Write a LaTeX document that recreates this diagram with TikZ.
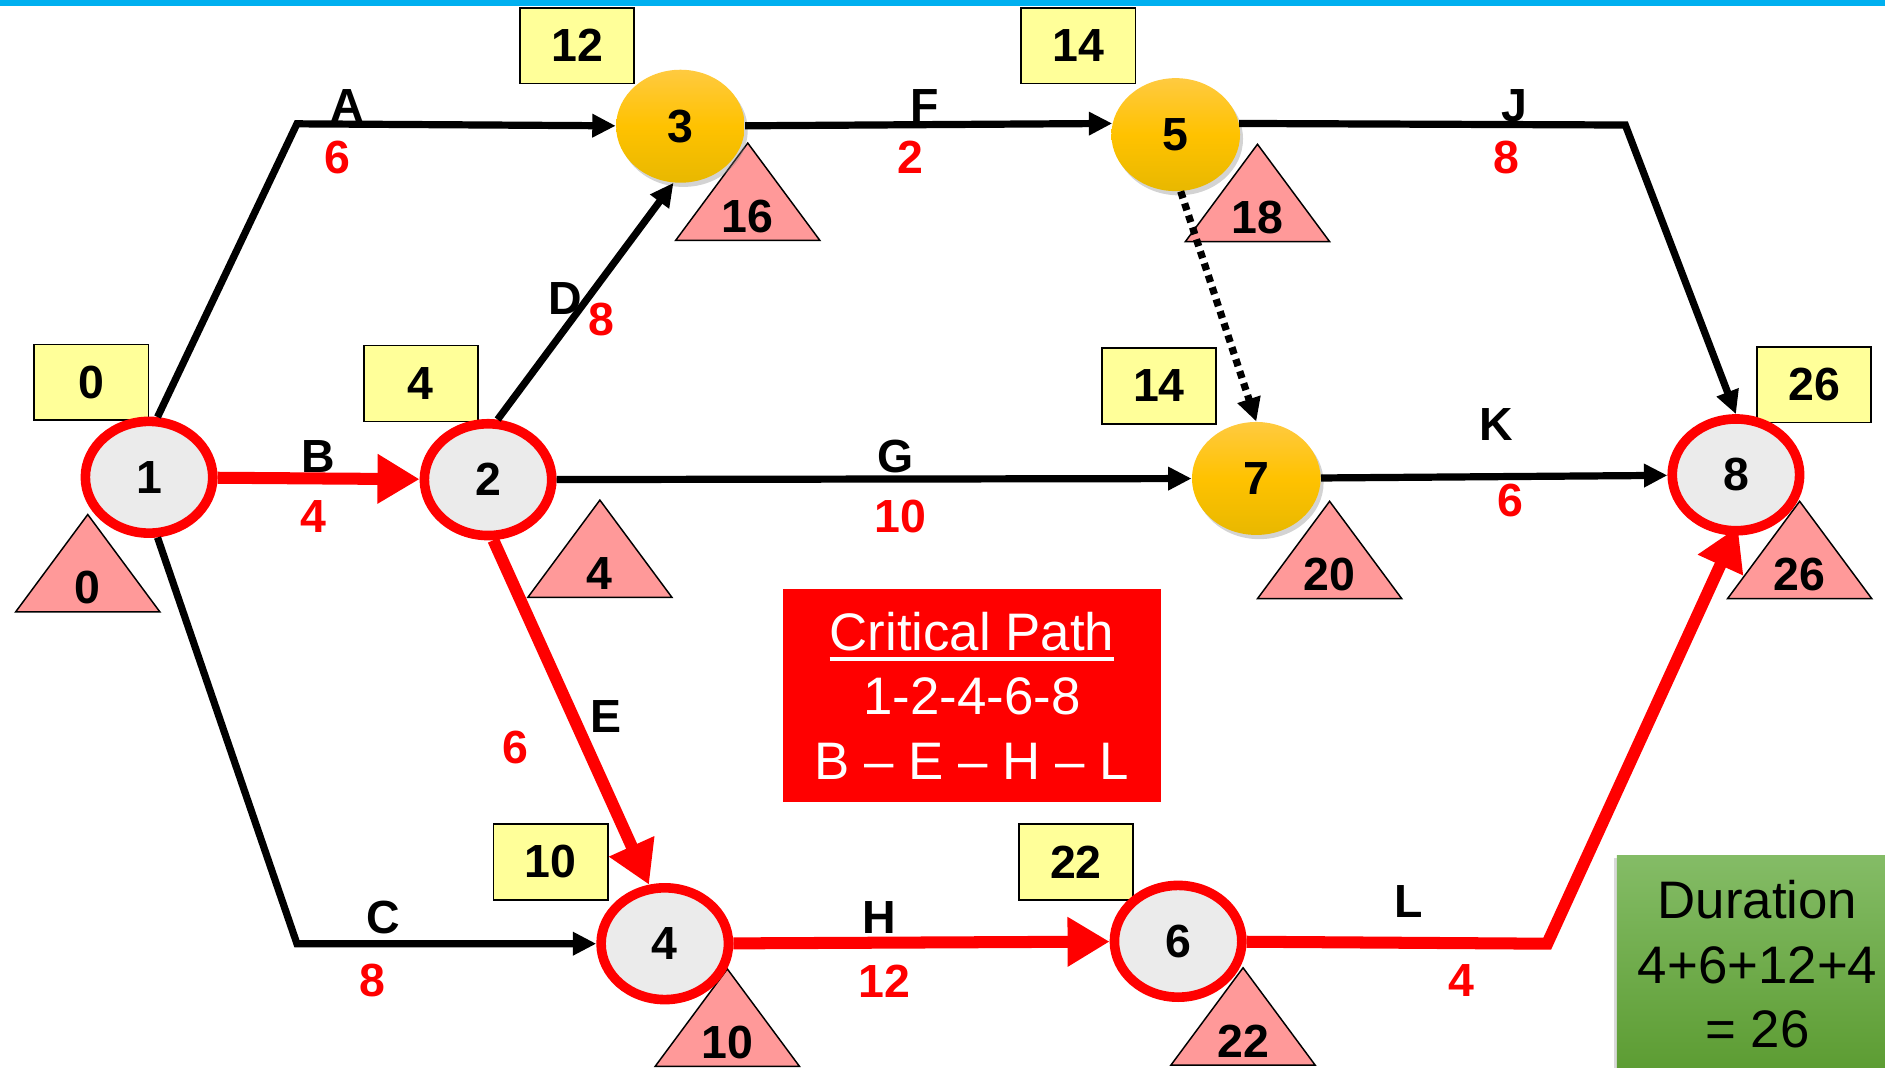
\documentclass[tikz,border=0pt]{standalone}
\usepackage{fontspec}
\setmainfont{Liberation Sans}
\usetikzlibrary{arrows.meta,shapes.geometric,shadows,backgrounds}
\definecolor{yboxfill}{HTML}{FFFF99}
\definecolor{trifill}{HTML}{FF9999}
\definecolor{nodegray}{HTML}{EBEBEB}
\definecolor{orgtop}{HTML}{FFCA40}
\definecolor{orgmid}{HTML}{FFC200}
\definecolor{orgbot}{HTML}{E8B800}
\definecolor{cyanbar}{HTML}{00B0F0}
\definecolor{grtop}{HTML}{84BC66}
\definecolor{grbot}{HTML}{5C9C32}
\newcommand\nfont{\fontsize{22}{26}\selectfont\bfseries}
\newcommand\bigtxt{\fontsize{25}{30.5}\selectfont}
\begin{document}
\begin{tikzpicture}[x=0.02cm,y=-0.02cm,
  critnode/.style={ellipse,draw=red,line width=0.16cm,fill=nodegray,minimum width=2.12cm,minimum height=1.86cm,inner sep=0pt,font=\nfont,
     drop shadow={shadow xshift=0.04cm,shadow yshift=-0.05cm,opacity=0.25}},
  orgnode/.style={ellipse,top color=orgtop,bottom color=orgbot,middle color=orgmid,minimum width=2.14cm,minimum height=1.88cm,inner sep=0pt,font=\nfont,
     drop shadow={shadow xshift=0.05cm,shadow yshift=-0.07cm,opacity=0.35}},
  yellowbox/.style={draw=black,line width=0.8pt,fill=yboxfill,minimum width=1.9cm,minimum height=1.26cm,inner sep=0pt,font=\nfont},
  pinktri/.style={draw=black,line width=0.7pt,fill=trifill},
  blk/.style={draw=black,line width=0.12cm,-{Triangle[length=0.39cm,width=0.37cm]}},
  crit/.style={draw=red,line width=0.2cm,-{Triangle[length=0.7cm,width=0.78cm]}},
  dotarrow/.style={draw=black,line width=0.12cm,dash pattern=on 0.12cm off 0.09cm,-{Triangle[length=0.39cm,width=0.38cm]}},
  actlbl/.style={font=\nfont,text=black,inner sep=0pt},
  durlbl/.style={font=\nfont,text=red,inner sep=0pt},
  tri/.pic={\draw[pinktri] (-60,81) -- (0,0) -- (60,81) -- cycle;
            \node[font=\nfont,inner sep=0pt] at (0,61) {#1};}
]
\useasboundingbox (0,0) rectangle (1568,888);
\fill[cyanbar] (0,0) rectangle (1568,5);

% event nodes
\node[critnode] (n1) at (124,397) {1};
\node[critnode] (n2) at (406,399) {2};
\node[orgnode]  (n3) at (566,105) {3};
\node[critnode] (n4) at (553,785) {4};
\node[orgnode]  (n5) at (978,112) {5};
\node[critnode] (n6) at (980,783) {6};
\node[orgnode]  (n7) at (1045,398) {7};
\node[critnode] (n8) at (1444,395) {8};

% boxes and triangles behind
\begin{scope}[on background layer]
\node[yellowbox] (e3) at (480,38) {12};
\node[yellowbox] (e5) at (897,38) {14};
\node[yellowbox] (e1) at (76,318) {0};
\node[yellowbox] (e2) at (350,319) {4};
\node[yellowbox] (e7) at (964,321) {14};
\node[yellowbox] (e8) at (1509,320) {26};
\node[yellowbox] (e4) at (458,717) {10};
\node[yellowbox] (e6) at (895,717) {22};
\pic at (73,428) {tri=0};
\pic at (622,119) {tri=16};
\pic at (1046,120) {tri=18};
\pic at (499,416) {tri=4};
\pic at (1106,417) {tri=20};
\pic at (1497,417) {tri=26};
\pic at (605,806) {tri=10};
\pic at (1034,805) {tri=22};
\end{scope}

% bend points
\coordinate (a1) at (247,103);
\coordinate (c1) at (247,785);
\coordinate (j1) at (1352,104);
\coordinate (l1) at (1287,785);

% activities
\draw[blk] (n1.82) -- (a1) -- (n3);
\draw[blk] (n1.-82) -- (c1) -- (n4);
\draw[crit] (n1) -- (n2);
\draw[blk] (n2.81) -- (n3.263);
\draw[blk] (n2) -- (n7);
\draw[crit] (n2.-85) -- (n4.105);
\draw[blk] (n3) -- (n5.170);
\draw[blk] (n5.10) -- (j1) -- (n8.north);
\draw[dotarrow] (n5.-85) -- (n7.north);
\draw[blk] (n7) -- (n8);
\draw[crit] (n4) -- (n6);
\draw[crit,shorten >=-0.16cm] (n6) -- (l1) -- (n8.-92);

% activity labels
\node[actlbl] (lA) at (289,88) {A};   \node[durlbl] (dA) at (281,131) {6};
\node[actlbl] (lB) at (265,380) {B};  \node[durlbl] (dB) at (261,430) {4};
\node[actlbl] (lC) at (319,763) {C};  \node[durlbl] (dC) at (310,816) {8};
\node[actlbl] (lD) at (470,248) {D};  \node[durlbl] (dD) at (500,266) {8};
\node[actlbl] (lE) at (504,596) {E};  \node[durlbl] (dE) at (429,622) {6};
\node[actlbl] (lF) at (769,88) {F};   \node[durlbl] (dF) at (757,131) {2};
\node[actlbl] (lG) at (745,380) {G};  \node[durlbl] (dG) at (749,430) {10};
\node[actlbl] (lH) at (731,763) {H};  \node[durlbl] (dH) at (736,816) {12};
\node[actlbl] (lJ) at (1260,88) {J};  \node[durlbl] (dJ) at (1253,131) {8};
\node[actlbl] (lK) at (1245,353) {K}; \node[durlbl] (dK) at (1256,416) {6};
\node[actlbl] (lL) at (1172,750) {L}; \node[durlbl] (dL) at (1216,816) {4};

% critical path box
\node[fill=red,text=white,minimum width=6.3cm,minimum height=3.54cm,align=center,font=\bigtxt,inner sep=0pt] (cp) at (808.5,578.5)
  {\setbox0\hbox{Critical Path}\rlap{\rule[-5pt]{\wd0}{1.6pt}}\box0\\1-2-4-6-8\\B – E – H – L};

% duration box
\node[top color=grtop,bottom color=grbot,minimum width=4.68cm,minimum height=3.6cm,align=center,font=\bigtxt,inner sep=0pt,
   drop shadow={shadow xshift=-0.05cm,shadow yshift=-0.03cm,opacity=0.3}] (dur) at (1462,802)
  {Duration\\4+6+12+4\\= 26};
\end{tikzpicture}
\end{document}
